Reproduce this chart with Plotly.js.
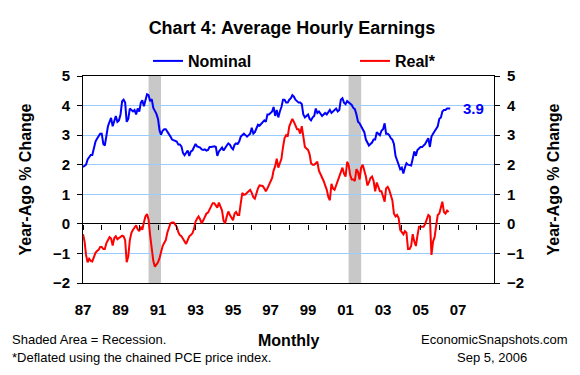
<!DOCTYPE html>
<html><head><meta charset="utf-8">
<script src="https://cdn.plot.ly/plotly-3.0.1.min.js"></script>
<style>html,body{margin:0;padding:0;background:#fff;}#chart{width:580px;height:375px;}</style>
</head><body><div id="chart"></div>
<script>
// Year-ago % change, monthly from Jan 1987
const nominal = [
 1.92,1.95,2.0,2.18,2.28,2.33,2.33,2.58,2.78,2.88,2.98,3.05,
 3.05,2.7,2.65,3.07,3.3,3.45,3.58,3.3,3.5,3.65,3.45,3.5,
 3.7,4.15,4.2,4.1,3.45,3.55,3.9,3.85,3.8,3.85,3.7,3.9,
 3.8,4.1,4.18,3.98,4.2,4.38,4.35,4.15,4.22,3.92,3.82,3.72,
 3.55,3.15,3.02,3.15,3.2,3.2,3.12,3.05,2.95,2.85,2.82,2.8,
 2.78,2.68,2.68,2.62,2.4,2.32,2.42,2.48,2.3,2.45,2.48,2.62,
 2.7,2.62,2.6,2.58,2.52,2.5,2.52,2.48,2.5,2.6,2.6,2.62,
 2.62,2.6,2.3,2.45,2.52,2.58,2.48,2.58,2.65,2.72,2.68,2.58,
 2.52,2.68,2.72,2.7,2.78,2.95,3.0,3.05,3.0,2.95,3.0,3.05,
 3.25,3.05,3.1,3.25,3.35,3.32,3.38,3.42,3.5,3.45,3.7,3.7,
 3.75,3.8,3.95,3.65,3.85,3.6,3.8,3.95,4.2,4.2,4.1,4.1,
 4.2,4.25,4.35,4.3,4.2,4.15,4.1,4.1,4.05,3.7,3.6,3.65,
 3.7,3.55,3.5,3.6,3.65,3.9,3.75,3.8,3.7,3.65,3.7,3.75,
 3.7,3.8,3.85,3.75,3.8,3.85,3.9,3.8,3.85,4.2,4.25,4.1,
 4.05,4.15,4.1,4.05,4.02,3.92,3.88,3.7,3.45,3.4,3.3,3.25,
 3.1,2.85,2.75,2.65,2.7,2.75,2.85,2.85,3.1,3.05,3.0,3.15,
 3.2,3.4,3.05,3.05,3.0,2.9,2.85,2.7,2.3,2.15,1.95,1.85,
 1.9,1.7,1.9,2.05,2.0,1.98,1.97,2.2,2.45,2.3,2.5,2.55,
 2.6,2.6,2.65,2.7,2.8,2.9,2.6,2.95,3.05,3.15,3.2,3.3,
 3.55,3.6,3.8,3.85,3.85,3.9,3.9,3.9
];
const real = [
 -0.35,-0.6,-1.05,-1.3,-1.18,-1.25,-1.27,-1.1,-0.98,-0.92,-0.88,-0.78,
 -0.78,-0.85,-0.85,-0.65,-0.52,-0.45,-0.5,-0.73,-0.48,-0.42,-0.52,-0.48,
 -0.42,-0.4,-0.42,-0.55,-1.3,-1.1,-0.55,-0.3,-0.2,-0.12,-0.05,-0.18,
 -0.25,-0.1,-0.2,0.05,0.25,0.33,0.15,-0.4,-0.95,-1.25,-1.45,-1.38,
 -1.3,-1.15,-0.95,-0.75,-0.65,-0.55,-0.3,-0.15,0.02,0.05,0.05,-0.02,
 -0.1,-0.28,-0.38,-0.42,-0.5,-0.58,-0.68,-0.55,-0.42,-0.38,-0.32,-0.18,
 0.08,0.18,0.25,0.15,0.02,0.12,0.22,0.35,0.38,0.48,0.55,0.7,
 0.7,0.6,0.55,0.72,0.58,0.45,0.1,0.02,0.25,0.42,0.3,0.2,
 0.12,0.35,0.4,0.3,0.3,0.7,1.05,0.98,1.0,1.05,1.1,1.15,
 1.05,0.9,0.85,1.05,1.2,1.3,1.3,1.28,1.2,1.1,1.2,1.3,
 1.45,1.55,1.8,1.95,2.2,1.9,2.05,2.2,2.6,2.9,3.0,2.95,
 3.3,3.45,3.55,3.45,3.3,3.2,3.2,3.05,3.3,2.85,2.6,2.55,
 2.5,2.35,2.05,2.0,2.0,2.05,2.1,1.8,1.7,1.55,1.45,1.3,
 1.15,0.9,0.8,1.35,1.2,1.15,1.3,1.4,1.6,1.75,1.9,1.7,
 1.6,2.1,2.0,1.65,1.5,1.5,1.45,1.85,1.75,1.5,1.9,2.0,
 1.8,1.6,1.3,1.4,1.55,1.6,1.45,1.1,1.4,1.25,1.1,1.1,
 0.95,0.75,1.2,1.25,1.15,1.0,0.8,0.35,0.25,0.3,0.2,-0.2,
 -0.3,-0.35,-0.25,-0.3,-0.85,-0.85,-0.75,-0.35,-0.6,-0.75,-0.4,-0.1,
 -0.1,-0.1,-0.1,0.0,0.15,0.3,0.25,-1.05,-0.6,-0.45,-0.05,0.3,
 0.35,0.6,0.75,0.4,0.35,0.45,0.4
];
const startYear = 1987;
const recessionStart = ['1990-07-01','2001-03-01'];
const recessionEnd = ['1991-03-01','2001-11-01'];
const xRange = ['1987-01-01','2008-12-01'];
const seriesNames = ['Nominal','Real*'];

function monthDates(n){
  const out=[];
  for(let i=0;i<n;i++){
    const y=startYear+Math.floor(i/12), m=i%12+1;
    out.push(y+'-'+String(m).padStart(2,'0')+'-01');
  }
  return out;
}
const nomX = monthDates(nominal.length);
const realX = monthDates(real.length);

const FONT = "'Liberation Sans', Arial, sans-serif";
const bold = (size, color) => ({family: FONT, size: size, weight: 'bold', color: color || '#000'});
const reg = (size) => ({family: FONT, size: size, color: '#000'});

const traces = [
  {x: nomX, y: nominal, type:'scatter', mode:'lines', name: seriesNames[0],
   line:{color:'#0000ff', width:2}, xaxis:'x', yaxis:'y', legend:'legend', hoverinfo:'skip'},
  {x: realX, y: real, type:'scatter', mode:'lines', name: seriesNames[1],
   line:{color:'#ff0000', width:2}, xaxis:'x2', yaxis:'y', legend:'legend2', hoverinfo:'skip'},
  {x: [], y: [], type:'scatter', mode:'lines', xaxis:'x', yaxis:'y2', showlegend:false, hoverinfo:'skip'}
];

const shapes = recessionStart.map((s,i)=>({
  type:'rect', xref:'x', yref:'paper', x0:s, x1:recessionEnd[i], y0:0, y1:1,
  fillcolor:'#c8c8c8', line:{width:0}, layer:'between'
}));

const L=83, R=86, T=76, B=92, W=580, H=375;
const pw=W-L-R, ph=H-T-B;
const px = v => (v-L)/pw;
const py = v => (H-B-v)/ph;

const lastN = nominal[nominal.length-1];
const annotations = [
  {x: nomX[nomX.length-1], y: lastN, xref:'x', yref:'y', text: lastN.toFixed(1),
   showarrow:false, xanchor:'left', yanchor:'middle', xshift:11, font: bold(15,'#0000ff')},
  {x: px(10), y: py(339.5), xref:'paper', yref:'paper', text:'Shaded Area = Recession.',
   showarrow:false, xanchor:'left', yanchor:'middle', font: reg(13)},
  {x: px(10), y: py(357), xref:'paper', yref:'paper', text:'*Deflated using the chained PCE price index.',
   showarrow:false, xanchor:'left', yanchor:'middle', font: reg(13)},
  {x: px(288), y: py(340), xref:'paper', yref:'paper', text:'Monthly',
   showarrow:false, xanchor:'center', yanchor:'middle', font: bold(16)},
  {x: px(494), y: py(339.5), xref:'paper', yref:'paper', text:'EconomicSnapshots.com',
   showarrow:false, xanchor:'center', yanchor:'middle', font: reg(13)},
  {x: px(492), y: py(357), xref:'paper', yref:'paper', text:'Sep 5, 2006',
   showarrow:false, xanchor:'center', yanchor:'middle', font: reg(13)}
];

const yCommon = {
  range:[-2,5], dtick:1, tick0:0, ticks:'outside', ticklen:5, tickcolor:'#000', tickwidth:1,
  showline:true, linecolor:'#000', linewidth:1, tickfont: bold(15), ticklabelstandoff:4,
  fixedrange:true
};

const legendCommon = {orientation:'h', xanchor:'left', y:py(61), yanchor:'middle',
  font: bold(16), bgcolor:'rgba(0,0,0,0)', itemclick:false};

const layout = {
  width:W, height:H, margin:{l:L, r:R, t:T, b:B, pad:0},
  paper_bgcolor:'#fff', plot_bgcolor:'#fff',
  title:{text:'Chart 4: Average Hourly Earnings', font: bold(18), x:292/W, xref:'container',
         xanchor:'center', y:1-28/H, yref:'container', yanchor:'middle'},
  showlegend:true,
  legend: Object.assign({x:px(148)}, legendCommon),
  legend2: Object.assign({x:px(355)}, legendCommon),
  xaxis:{type:'date', range:xRange, tickformat:'%y', dtick:'M24', tick0:'1987-01-01',
         ticks:'outside', ticklen:13, tickcolor:'rgba(0,0,0,0)', showgrid:false, zeroline:false,
         showline:true, linecolor:'#000', linewidth:1, mirror:true, tickfont: bold(15), fixedrange:true},
  xaxis2:{type:'date', range:xRange, overlaying:'x', anchor:'free', position:2/7,
          dtick:'M12', tick0:'1988-01-01', ticks:'outside', ticklen:5, tickcolor:'#000', tickwidth:1,
          showticklabels:false, showgrid:false, zeroline:false, showline:false, fixedrange:true},
  yaxis: Object.assign({}, yCommon, {
    showgrid:true, gridcolor:'#99ccff', gridwidth:1,
    zeroline:true, zerolinecolor:'#000', zerolinewidth:1,
    title:{text:'Year-Ago % Change', font: bold(16), standoff:17}
  }),
  yaxis2: Object.assign({}, yCommon, {
    overlaying:'y', side:'right', showgrid:false, zeroline:false,
    title:{text:'Year-Ago % Change', font: bold(16), standoff:24}
  }),
  shapes: shapes,
  annotations: annotations
};

Plotly.newPlot('chart', traces, layout, {displayModeBar:false, staticPlot:true});
</script></body></html>
